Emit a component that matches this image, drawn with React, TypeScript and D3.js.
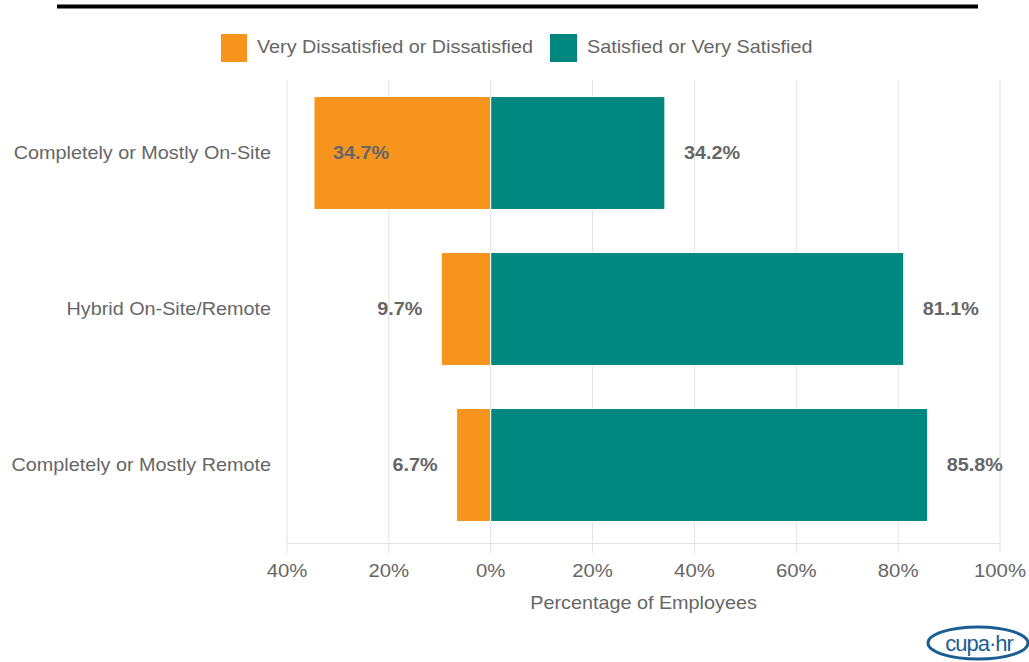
import React from "react";
import * as d3 from "d3";

const categories = ["Completely or Mostly On-Site", "Hybrid On-Site/Remote", "Completely or Mostly Remote"];
const dissatisfied = [34.7, 9.7, 6.7];
const satisfied = [34.2, 81.1, 85.8];
const tickValues = [-40, -20, 0, 20, 40, 60, 80, 100];
const seriesNames = ["Very Dissatisfied or Dissatisfied", "Satisfied or Very Satisfied"];
const colors = ["#f7941d", "#00877f"];

const W = 1029;
const H = 662;
const FONT = "'Liberation Sans', Arial, sans-serif";
const SX = 1.1;

function T(props: {
  x: number;
  y: number;
  size?: number;
  anchor?: string;
  bold?: boolean;
  fill?: string;
  dy?: string;
  children: React.ReactNode;
}) {
  const { x, y, size = 18, anchor = "start", bold = false, fill = "#666666", dy, children } = props;
  return (
    <text
      transform={`translate(${x},${y}) scale(${SX},1)`}
      dy={dy}
      textAnchor={anchor}
      fontFamily={FONT}
      fontSize={size}
      fontWeight={bold ? "bold" : "normal"}
      fill={fill}
    >
      {children}
    </text>
  );
}

export default function App() {
  const x = d3.scaleLinear().domain([-40, 100]).range([287, 1000]);
  const y = d3.scaleBand<string>().domain(categories).range([75, 543]).paddingInner(0.276).paddingOuter(0.138);
  const bw = y.bandwidth();

  return (
    <svg width={W} height={H} style={{ position: "absolute", left: 0, top: 0, background: "#fff" }}>
      <rect x={0} y={0} width={W} height={H} fill="#fff" />
      <line x1={57} x2={978} y1={6.5} y2={6.5} stroke="#000" strokeWidth={4} />
      {/* legend */}
      <rect x={221} y={34} width={26} height={28} fill={colors[0]} />
      <T x={257} y={53}>{seriesNames[0]}</T>
      <rect x={550} y={34} width={27} height={28} fill={colors[1]} />
      <T x={587} y={53}>{seriesNames[1]}</T>
      {/* grid */}
      {tickValues.map((t) => (
        <line key={"g" + t} x1={x(t)} x2={x(t)} y1={80} y2={553} stroke="#e3e3e3" strokeWidth={1} />
      ))}
      <line x1={x(-40)} x2={x(100)} y1={543.5} y2={543.5} stroke="#e3e3e3" />
      {/* bars */}
      {categories.map((c, i) => {
        const y0 = y(c)!;
        const left = x(-dissatisfied[i]);
        const right = x(satisfied[i]);
        const cy = y0 + bw / 2;
        const outsideLeft = left - 19;
        const fitsOutside = outsideLeft - 56 > x(-40);
        return (
          <g key={c}>
            <rect x={left} y={y0} width={x(0) - left} height={bw} fill={colors[0]} stroke="#fff" strokeWidth={1} />
            <rect x={x(0)} y={y0} width={right - x(0)} height={bw} fill={colors[1]} stroke="#fff" strokeWidth={1} />
            <T x={271} y={cy} dy="0.35em" anchor="end">{c}</T>
            <T x={fitsOutside ? outsideLeft : left + 19} y={cy} dy="0.35em" anchor={fitsOutside ? "end" : "start"} bold>
              {dissatisfied[i].toFixed(1)}%
            </T>
            <T x={right + 19} y={cy} dy="0.35em" bold>
              {satisfied[i].toFixed(1)}%
            </T>
          </g>
        );
      })}
      {/* axis labels */}
      {tickValues.map((t) => (
        <T key={"t" + t} x={x(t)} y={577} anchor="middle" size={18.5}>
          {Math.abs(t)}%
        </T>
      ))}
      <T x={(x(-40) + x(100)) / 2} y={609} anchor="middle">
        Percentage of Employees
      </T>
      {/* logo */}
      <g>
        <ellipse cx={978} cy={643} rx={50} ry={16} fill="none" stroke="#1b5e91" strokeWidth={3} />
        <text x={979} y={651} textAnchor="middle" fontFamily={FONT} fontSize={22} fill="#1b5e91" letterSpacing={-1}>cupa·hr</text>
      </g>
    </svg>
  );
}
